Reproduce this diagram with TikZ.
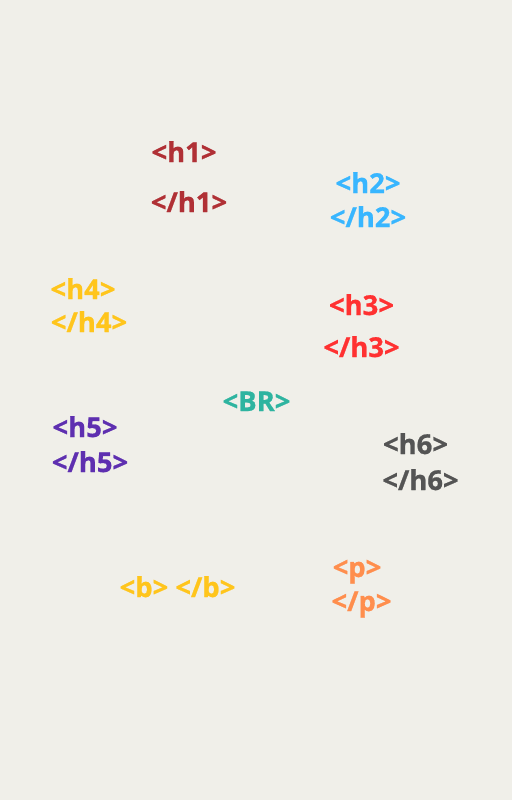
\documentclass[tikz,border=0pt]{standalone}
\usepackage{fontspec}
\setmainfont{Open Sans}[BoldFeatures={FakeBold=0.8}]
\definecolor{bgpaper}{HTML}{F0EFE9}
\definecolor{tagred}{HTML}{B03035}
\definecolor{tagblue}{HTML}{38B6FF}
\definecolor{tagyellow}{HTML}{FFC51C}
\definecolor{tagscarlet}{HTML}{FF3131}
\definecolor{tagteal}{HTML}{2EB4A0}
\definecolor{tagpurple}{HTML}{5E2FB0}
\definecolor{taggray}{HTML}{545454}
\definecolor{tagorange}{HTML}{FF8E4D}
\tikzset{
  tag/.style={anchor=base, inner sep=0pt, font=\fontsize{27.5}{32}\selectfont\bfseries, text=#1}
}
\begin{document}
\begin{tikzpicture}[x=1bp, y=-1bp]
      \fill[bgpaper] (0,0) rectangle (512,800);
      \useasboundingbox (0,0) rectangle (512,800);
      % opening and closing tags
      \path
        (184,162) node[tag=tagred] (h1o){<h1>}
        (189,212) node[tag=tagred] (h1c){</h1>}
        (368,193) node[tag=tagblue] (h2o){<h2>}
        (368,227) node[tag=tagblue] (h2c){</h2>}
        (83,299) node[tag=tagyellow] (h4o){<h4>}
        (89,332) node[tag=tagyellow] (h4c){</h4>}
        (361.5,315) node[tag=tagscarlet] (h3o){<h3>}
        (361.5,357) node[tag=tagscarlet] (h3c){</h3>}
        (256.5,411) node[tag=tagteal] (br){<BR>}
        (85,437) node[tag=tagpurple] (h5o){<h5>}
        (90,472) node[tag=tagpurple] (h5c){</h5>}
        (415.5,454) node[tag=taggray] (h6o){<h6>}
        (420.5,490) node[tag=taggray] (h6c){</h6>}
        (177.5,597) node[tag=tagyellow] (bo){<b> </b>}
        (357,577) node[tag=tagorange] (po){<p>}
        (361.5,611) node[tag=tagorange] (pc){</p>};
    \end{tikzpicture}
\end{document}
